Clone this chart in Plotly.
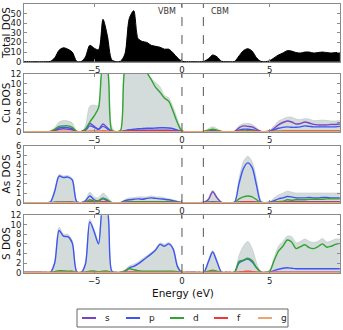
import plotly.graph_objects as go

ENERGY = [-9.0, -8.75, -8.5, -8.25, -8.0, -7.75, -7.5, -7.25,
          -7.0, -6.75, -6.5, -6.25, -6.0, -5.75, -5.5, -5.25,
          -5.0, -4.75, -4.5, -4.25, -4.0, -3.75, -3.5, -3.25,
          -3.0, -2.75, -2.5, -2.25, -2.0, -1.75, -1.5, -1.25,
          -1.0, -0.75, -0.5, -0.25, 0.0, 0.25, 0.5, 0.75,
          1.0, 1.25, 1.5, 1.75, 2.0, 2.25, 2.5, 2.75,
          3.0, 3.25, 3.5, 3.75, 4.0, 4.25, 4.5, 4.75,
          5.0, 5.25, 5.5, 5.75, 6.0, 6.25, 6.5, 6.75,
          7.0, 7.25, 7.5, 7.75, 8.0, 8.25, 8.5, 8.75, 9.0]

TOTAL_DOS = [0, 0, 0, 0, 0, 0, 0.3, 4,
             12, 14.5, 13, 10, 0.5, 0, 5, 17,
             14, 12.5, 44, 27, 2, 0, 0.5, 8,
             45, 53, 24, 21, 20, 17, 16, 15,
             13, 13, 9, 4, 0.5, 0, 0, 0,
             0, 0.3, 3, 7, 5, 0.5, 0, 0,
             0.3, 6, 11.5, 13.5, 11, 4, 0.3, 0,
             1, 4, 7, 9, 11.5, 11, 9.5, 9,
             10, 10, 9, 9.5, 10, 9.5, 9, 9.5, 9.5]

CU_TOTAL = [0, 0, 0, 0, 0, 0, 0.1, 0.8,
            2.0, 2.3, 2.2, 1.8, 0.1, 0, 1.2, 5.3,
            5.5, 5.4, 14, 13, 1, 0, 0.3, 13,
            14, 14, 14, 14, 12.5, 11, 10.2, 9.3,
            7.5, 7, 5, 2.5, 0.3, 0, 0, 0,
            0, 0.1, 0.6, 1.0, 0.6, 0.1, 0, 0,
            0.1, 1.2, 1.6, 1.7, 1.5, 0.8, 0.1, 0,
            0.3, 1.2, 2.2, 2.6, 3.0, 3.0, 2.6, 2.5,
            2.7, 2.6, 2.3, 2.3, 2.4, 2.3, 2.2, 2.2, 2.3]
CU_S = [0, 0, 0, 0, 0, 0, 0, 0.2,
        0.5, 0.6, 0.5, 0.4, 0.05, 0, 0.5, 1.7,
        1.1, 0.5, 1.6, 0.8, 0.05, 0, 0, 0.1,
        0.3, 0.3, 0.3, 0.3, 0.3, 0.3, 0.3, 0.3,
        0.3, 0.3, 0.25, 0.15, 0, 0, 0, 0,
        0, 0, 0.1, 0.2, 0.1, 0, 0, 0,
        0, 0.8, 1.2, 1.1, 1.0, 0.5, 0.05, 0,
        0.1, 0.7, 1.4, 1.9, 2.2, 2.0, 1.6, 1.7,
        2.0, 1.8, 1.5, 1.4, 1.4, 1.4, 1.5, 1.5, 1.6]
CU_P = [0, 0, 0, 0, 0, 0, 0, 0.3,
        0.8, 0.9, 0.8, 0.6, 0.05, 0, 0.3, 1.2,
        0.9, 0.5, 1.1, 0.6, 0.05, 0, 0, 0.2,
        0.4, 0.5, 0.6, 0.65, 0.7, 0.7, 0.75, 0.8,
        0.8, 0.75, 0.6, 0.3, 0.05, 0, 0, 0,
        0, 0, 0.2, 0.3, 0.2, 0, 0, 0,
        0, 0.3, 0.5, 0.5, 0.4, 0.2, 0, 0,
        0.1, 0.4, 0.7, 0.9, 1.0, 0.9, 0.9, 1.0,
        1.2, 1.1, 1.0, 1.0, 1.0, 1.0, 1.0, 1.0, 1.1]
CU_D = [0, 0, 0, 0, 0, 0, 0.05, 0.5,
        1.1, 1.2, 1.2, 0.9, 0.05, 0, 0.5, 2.0,
        3.3, 5.0, 14, 13, 0.3, 0, 0.3, 13,
        14, 14, 14, 14, 12.3, 10.8, 9.2, 8.2,
        7.0, 6.3, 4.2, 1.8, 0.1, 0, 0, 0,
        0, 0.05, 0.3, 0.5, 0.3, 0.05, 0, 0,
        0, 0.1, 0.15, 0.2, 0.15, 0.1, 0, 0,
        0, 0.05, 0.1, 0.1, 0.1, 0.1, 0.1, 0.1,
        0.1, 0.1, 0.1, 0.1, 0.1, 0.1, 0.1, 0.1, 0.1]
CU_F = [0, 0, 0, 0, 0, 0, 0, 0.02,
        0.05, 0.05, 0.05, 0.05, 0, 0, 0.03, 0.1,
        0.1, 0.08, 0.15, 0.1, 0, 0, 0, 0.05,
        0.1, 0.1, 0.1, 0.1, 0.1, 0.1, 0.1, 0.08,
        0.08, 0.08, 0.06, 0.03, 0, 0, 0, 0,
        0, 0, 0, 0.02, 0, 0, 0, 0,
        0, 0.03, 0.05, 0.05, 0.05, 0.03, 0, 0,
        0, 0.03, 0.05, 0.08, 0.1, 0.1, 0.1, 0.1,
        0.1, 0.1, 0.1, 0.1, 0.1, 0.1, 0.1, 0.1, 0.1]

AS_TOTAL = [0, 0, 0, 0, 0, 0, 0.1, 1.4,
            2.95, 2.8, 2.85, 2.55, 0.2, 0, 0.3, 1.1,
            0.6, 0.5, 1.0, 0.6, 0.05, 0, 0.05, 0.3,
            0.5, 0.5, 0.6, 0.6, 0.6, 0.7, 0.6, 0.6,
            0.5, 0.4, 0.3, 0.15, 0, 0, 0, 0,
            0, 0.05, 0.45, 1.3, 0.6, 0.05, 0, 0,
            0.1, 2.5, 4.3, 4.9, 4.3, 2.4, 0.2, 0,
            0.1, 0.5, 0.8, 1.0, 1.2, 1.1, 1.0, 1.0,
            1.0, 1.0, 1.0, 1.0, 1.0, 1.0, 1.0, 1.0, 1.0]
AS_S = [0, 0, 0, 0, 0, 0, 0, 0.02,
        0.05, 0.05, 0.05, 0.05, 0, 0, 0.05, 0.15,
        0.1, 0.05, 0.1, 0.05, 0, 0, 0, 0.02,
        0.05, 0.05, 0.05, 0.05, 0.05, 0.05, 0.05, 0.05,
        0.05, 0.05, 0.05, 0.02, 0, 0, 0, 0,
        0, 0.05, 0.3, 1.15, 0.5, 0.03, 0, 0,
        0, 0.05, 0.1, 0.1, 0.1, 0.05, 0, 0,
        0, 0.05, 0.05, 0.05, 0.1, 0.1, 0.1, 0.1,
        0.1, 0.1, 0.1, 0.1, 0.1, 0.1, 0.1, 0.1, 0.1]
AS_P = [0, 0, 0, 0, 0, 0, 0.05, 1.2,
        2.8, 2.65, 2.7, 2.4, 0.1, 0, 0.2, 0.7,
        0.3, 0.2, 0.4, 0.2, 0, 0, 0, 0.2,
        0.3, 0.35, 0.4, 0.35, 0.45, 0.5, 0.45, 0.4,
        0.35, 0.3, 0.2, 0.1, 0, 0, 0, 0,
        0, 0, 0.05, 0.1, 0.05, 0, 0, 0,
        0.05, 2.0, 3.6, 4.2, 3.7, 1.8, 0.05, 0,
        0.05, 0.2, 0.4, 0.5, 0.65, 0.6, 0.5, 0.5,
        0.5, 0.55, 0.5, 0.5, 0.55, 0.55, 0.5, 0.5, 0.5]
AS_D = [0, 0, 0, 0, 0, 0, 0, 0.02,
        0.05, 0.05, 0.05, 0.05, 0, 0, 0.05, 0.3,
        0.15, 0.2, 0.5, 0.3, 0, 0, 0, 0.05,
        0.1, 0.1, 0.1, 0.1, 0.1, 0.1, 0.1, 0.1,
        0.1, 0.1, 0.08, 0.05, 0, 0, 0, 0,
        0, 0, 0.05, 0.05, 0.05, 0, 0, 0,
        0, 0.4, 0.6, 0.7, 0.6, 0.3, 0.02, 0,
        0, 0.05, 0.1, 0.15, 0.3, 0.25, 0.3, 0.3,
        0.3, 0.35, 0.35, 0.35, 0.35, 0.4, 0.4, 0.4, 0.4]
AS_F = [0, 0, 0, 0, 0, 0, 0, 0.02,
        0.03, 0.03, 0.03, 0.03, 0, 0, 0.02, 0.05,
        0.05, 0.05, 0.08, 0.05, 0, 0, 0, 0.02,
        0.03, 0.03, 0.03, 0.03, 0.03, 0.03, 0.03, 0.03,
        0.03, 0.03, 0.03, 0.02, 0, 0, 0, 0,
        0, 0, 0.02, 0.03, 0.02, 0, 0, 0,
        0, 0.05, 0.08, 0.1, 0.08, 0.05, 0, 0,
        0, 0.02, 0.03, 0.04, 0.05, 0.05, 0.05, 0.05,
        0.05, 0.05, 0.05, 0.05, 0.05, 0.05, 0.05, 0.05, 0.05]

S_TOTAL = [0, 0, 0, 0, 0, 0, 0.1, 2.5,
           9.4, 8.0, 8.0, 6.6, 0.4, 0, 2.0, 11.1,
           8.9, 6.4, 14, 13, 0.5, 0, 0.05, 0.5,
           1.4, 1.7, 2.2, 2.9, 3.5, 4.2, 5.0, 6.2,
           5.9, 6.3, 5.2, 1.6, 0.1, 0, 0, 0,
           0, 0.1, 2.5, 4.6, 2.5, 0.1, 0, 0,
           0.2, 3.5, 5.5, 6.5, 5.0, 2.0, 0.2, 0,
           0.5, 3.0, 5.5, 6.5, 7.6, 7.5, 6.2, 6.5,
           7.0, 6.5, 6.3, 6.5, 7.1, 6.4, 6.6, 7.0, 7.0]
S_S = [0, 0, 0, 0, 0, 0, 0, 0.05,
       0.1, 0.1, 0.1, 0.1, 0, 0, 0.05, 0.1,
       0.1, 0.1, 0.1, 0.1, 0, 0, 0, 0.05,
       0.1, 0.1, 0.1, 0.1, 0.1, 0.1, 0.1, 0.1,
       0.1, 0.1, 0.1, 0.05, 0, 0, 0, 0,
       0, 0, 0.1, 0.15, 0.1, 0, 0, 0,
       0, 0.1, 0.1, 0.1, 0.1, 0.05, 0, 0,
       0, 0.05, 0.1, 0.1, 0.1, 0.1, 0.1, 0.1,
       0.1, 0.1, 0.1, 0.1, 0.1, 0.1, 0.1, 0.1, 0.1]
S_P = [0, 0, 0, 0, 0, 0, 0.05, 2.0,
       8.8, 7.6, 7.5, 6.2, 0.2, 0, 1.8, 10.6,
       8.5, 6.0, 14, 13, 0.3, 0, 0, 0.2,
       1.0, 1.3, 1.8, 2.5, 3.2, 3.9, 4.7, 5.9,
       5.5, 6.0, 4.9, 1.2, 0, 0, 0, 0,
       0, 0.05, 2.2, 4.3, 2.2, 0.1, 0, 0,
       0.1, 2.0, 2.5, 2.8, 2.2, 1.0, 0.1, 0,
       0.1, 0.4, 0.7, 0.9, 1.0, 0.9, 0.8, 0.8,
       0.8, 0.8, 0.8, 0.8, 0.8, 0.8, 0.8, 0.8, 0.8]
S_D = [0, 0, 0, 0, 0, 0, 0.02, 0.2,
       0.4, 0.35, 0.3, 0.3, 0.05, 0, 0.1, 0.3,
       0.3, 0.2, 0.3, 0.3, 0.05, 0, 0.05, 0.4,
       0.8, 0.6, 0.4, 0.3, 0.3, 0.3, 0.3, 0.3,
       0.3, 0.3, 0.3, 0.2, 0.05, 0, 0, 0,
       0, 0.05, 0.3, 0.5, 0.3, 0.05, 0, 0,
       0.1, 2.3, 2.6, 3.0, 2.5, 1.0, 0.1, 0,
       0.3, 2.5, 4.5, 5.5, 6.8, 6.4, 5.0, 5.4,
       5.8, 5.2, 5.0, 5.4, 6.0, 5.3, 5.5, 5.9, 6.1]
S_F = [0, 0, 0, 0, 0, 0, 0, 0.02,
       0.05, 0.05, 0.05, 0.05, 0, 0, 0.02, 0.05,
       0.05, 0.05, 0.05, 0.05, 0, 0, 0, 0.05,
       0.1, 0.1, 0.05, 0.05, 0.05, 0.05, 0.05, 0.05,
       0.05, 0.05, 0.05, 0.02, 0, 0, 0, 0,
       0, 0, 0.05, 0.05, 0.05, 0, 0, 0,
       0, 0.1, 0.2, 0.3, 0.2, 0.1, 0, 0,
       0, 0.05, 0.05, 0.05, 0.05, 0.05, 0.05, 0.05,
       0.05, 0.05, 0.05, 0.05, 0.05, 0.05, 0.05, 0.05, 0.05]

G_DOS = [0, 0, 0, 0, 0, 0, 0, 0,
         0, 0, 0, 0, 0, 0, 0, 0,
         0, 0, 0, 0, 0, 0, 0, 0,
         0, 0, 0, 0, 0, 0, 0, 0,
         0, 0, 0, 0, 0, 0, 0, 0,
         0, 0, 0, 0, 0, 0, 0, 0,
         0, 0, 0, 0, 0, 0, 0, 0,
         0, 0, 0, 0, 0, 0, 0, 0,
         0, 0, 0, 0, 0, 0, 0, 0, 0]

VBM = 0.0
CBM = 1.22

ORBITALS = ['s', 'p', 'd', 'f', 'g']
COLORS = {'s': '#7a44c6', 'p': '#3d56f2', 'd': '#2fa52f', 'f': '#ee3838', 'g': '#f3a46e'}
GRAY_FILL = '#d3dbdb'
FONT = 'DejaVu Sans'
W, H = 343, 330

fig = go.Figure()

panels = [
    ('Total DOS', 60, 10, [0.812, 0.988], TOTAL_DOS, None),
    ('Cu DOS', 12, 2, [0.600, 0.776], CU_TOTAL, [CU_S, CU_P, CU_D, CU_F, G_DOS]),
    ('As DOS', 6, 1, [0.385, 0.558], AS_TOTAL, [AS_S, AS_P, AS_D, AS_F, G_DOS]),
    ('S DOS', 12, 2, [0.173, 0.348], S_TOTAL, [S_S, S_P, S_D, S_F, G_DOS]),
]

for i, (title, ymax, dtick, domain, total, parts) in enumerate(panels):
    n = '' if i == 0 else str(i + 1)
    xref, yref = 'x' + n, 'y' + n
    if parts is None:
        fig.add_trace(go.Scatter(x=ENERGY, y=total, mode='lines', fill='tozeroy',
                                 fillcolor='black', line=dict(color='black', width=1, shape='spline', smoothing=0.8),
                                 showlegend=False, xaxis=xref, yaxis=yref, hoverinfo='skip'))
    else:
        fig.add_trace(go.Scatter(x=ENERGY, y=total, mode='lines', fill='tozeroy',
                                 fillcolor=GRAY_FILL, line=dict(color='#c4cccc', width=0.8, shape='spline', smoothing=0.8),
                                 showlegend=False, xaxis=xref, yaxis=yref, hoverinfo='skip'))
        for orb, vals in zip(ORBITALS, parts):
            fig.add_trace(go.Scatter(x=ENERGY, y=vals, mode='lines', name=orb,
                                     line=dict(color=COLORS[orb], width=1.4, shape='spline', smoothing=0.8),
                                     showlegend=False, legendgroup=orb,
                                     xaxis=xref, yaxis=yref, hoverinfo='skip'))

    axis_style = dict(showline=True, linecolor='#8a8a8a', linewidth=1, mirror='ticks',
                      ticks='inside', ticklen=3, tickcolor='#8a8a8a', showgrid=False,
                      zeroline=False, automargin=False,
                      tickfont=dict(family=FONT, size=8.5, color='#222'))
    fig.layout['xaxis' + n] = dict(domain=[0.07, 0.991], anchor=yref, range=[-9, 9],
                                   tickvals=[-5, 0, 5], **axis_style)
    fig.layout['yaxis' + n] = dict(domain=domain, anchor=xref, range=[-ymax * 0.006, ymax],
                                   dtick=dtick, tick0=0, **axis_style)

    for e in (VBM, CBM):
        fig.add_shape(type='line', xref=xref, yref=yref + ' domain', x0=e, x1=e, y0=0, y1=1,
                      line=dict(color='#555', width=1, dash='dash'))

    fig.add_annotation(text=title, xref='paper', yref='paper', x=6 / W, y=sum(domain) / 2,
                       textangle=-90, showarrow=False, xanchor='center', yanchor='middle',
                       font=dict(family=FONT, size=10.5, color='#111'))

fig.add_annotation(text='VBM', xref='x', yref='y domain', x=-0.2, y=0.99, xanchor='right',
                   yanchor='top', showarrow=False, font=dict(family=FONT, size=8, color='#333'))
fig.add_annotation(text='CBM', xref='x', yref='y domain', x=CBM + 0.3, y=0.99, xanchor='left',
                   yanchor='top', showarrow=False, font=dict(family=FONT, size=8, color='#333'))
fig.add_annotation(text='Energy (eV)', xref='paper', yref='paper', x=183 / W, y=1 - 293 / H,
                   showarrow=False, xanchor='center', yanchor='middle',
                   font=dict(family=FONT, size=10.5, color='#111'))

# legend box drawn by hand so that its entries are as compact as the original
fig.add_shape(type='rect', xref='paper', yref='paper', x0=77 / W, x1=288 / W,
              y0=1 - 327 / H, y1=1 - 309 / H, line=dict(color='#666', width=1),
              fillcolor='white')
legend_y = 1 - 318 / H
for k, orb in enumerate(ORBITALS):
    x0 = 82 + 44 * k
    fig.add_shape(type='line', xref='paper', yref='paper', x0=x0 / W, x1=(x0 + 14) / W,
                  y0=legend_y, y1=legend_y, line=dict(color=COLORS[orb], width=2))
    fig.add_annotation(text=orb, xref='paper', yref='paper', x=(x0 + 21) / W, y=legend_y,
                       xanchor='left', yanchor='middle', showarrow=False,
                       font=dict(family=FONT, size=9, color='#222'))

fig.update_layout(
    width=W, height=H,
    margin=dict(l=0, r=0, t=0, b=0),
    paper_bgcolor='white', plot_bgcolor='white',
    font=dict(family=FONT),
    showlegend=False,
)

fig.write_html('out.html', config={'displayModeBar': False},
               post_script="document.body.style.margin='0';")
